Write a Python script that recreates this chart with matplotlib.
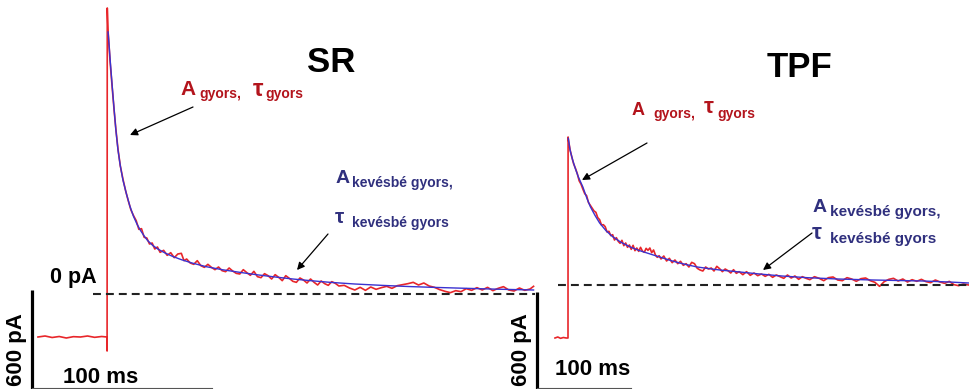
import numpy as np
import matplotlib.pyplot as plt

plt.rcParams['font.family'] = ['Liberation Sans', 'DejaVu Sans']

# SR trace: (time in ms with 0 = stimulus, current in pA with 0 = dashed baseline)
sr_trace = [
    (-39, -258), (-35, -252), (-31, -261), (-27, -255), (-23, -264), (-19, -256),
    (-15, -258), (-11, -252), (-7, -260), (-3, -255), (0, -258), (0.05, -342),
    (0.15, 1716), (0.6, 1572), (0.8, 1550), (1.7, 1400), (3, 1230), (4, 1105),
    (5, 990), (6.2, 870), (7.5, 770), (9, 690), (10.5, 620), (12, 560),
    (13.5, 505), (15, 470), (16.5, 440), (18, 388), (19.5, 392), (21, 340),
    (22.5, 336), (24, 300), (25.5, 306), (27, 270), (28.5, 282), (30, 250),
    (32, 262), (34, 232), (36, 248), (38, 218), (40, 240), (42, 244),
    (43.5, 200), (45, 210), (47, 186), (49, 178), (51, 200), (53, 170),
    (55, 160), (57, 178), (59, 160), (61, 146), (63, 162), (65, 140), (67, 134),
    (69, 156), (71, 138), (73, 124), (75, 120), (77, 146), (79, 128), (81, 112),
    (83, 136), (85, 104), (87, 98), (89, 122), (91, 110), (93, 90), (95, 116),
    (97, 100), (99, 80), (101, 110), (103, 94), (105, 76), (107, 70), (109, 96),
    (111, 84), (113, 66), (115, 90), (117, 70), (119, 54), (121, 78), (123, 62),
    (125, 52), (127, 74), (129, 64), (131, 48), (134, 52), (137, 36), (140, 24),
    (143, 40), (146, 22), (149, 42), (152, 28), (155, 38), (158, 46), (161, 34),
    (164, 50), (167, 56), (170, 62), (173, 70), (176, 54), (179, 66), (182, 48),
    (185, 40), (188, 26), (191, 16), (194, 8), (197, 20), (200, 14), (203, 32),
    (206, 22), (209, 38), (212, 24), (215, 40), (218, 20), (221, 34), (224, 44),
    (227, 24), (230, 18), (233, 36), (236, 22), (239, 30), (241, 46),
]

# SR fit
sr_fit_t = [0.6, 1.2, 2, 3, 4, 5, 6.2, 7.5, 9, 11, 13, 15, 17, 19, 21, 23, 26,
            29, 33, 37, 42, 48, 56, 65, 75, 85, 95, 105, 115, 126, 140, 155,
            170, 184, 200, 220, 241]
sr_fit_i = [1572, 1490, 1375, 1240, 1110, 985, 865, 770, 684, 600, 525, 465,
            418, 380, 348, 320, 290, 268, 245, 226, 206, 186, 164, 146, 130,
            115, 102, 90, 80, 70, 60, 52, 45, 40, 35, 29, 24]

# TPF trace
tpf_trace = [
    (-14, -318), (-11, -312), (-8, -320), (-5, -315), (-2, -318), (0, -318),
    (0.1, 888), (0.8, 860), (2.2, 812), (4, 770), (6, 728), (8, 700), (10, 668),
    (12, 625), (14, 605), (16, 575), (18, 548), (20, 536), (22, 495), (24, 478),
    (26, 462), (28, 444), (30, 436), (32, 404), (34, 392), (36, 360), (38, 362),
    (40, 350), (42, 318), (44, 322), (46, 296), (48, 302), (50, 270), (52, 284),
    (54, 262), (56, 250), (58, 268), (60, 236), (62, 252), (64, 226), (66, 240),
    (68, 214), (70, 238), (72, 206), (74, 222), (76, 202), (78, 226), (80, 204),
    (82, 196), (84, 220), (86, 208), (88, 222), (90, 194), (92, 210), (94, 180),
    (96, 166), (98, 176), (100, 156), (103, 174), (106, 144), (109, 160),
    (112, 134), (115, 150), (118, 128), (121, 142), (124, 118), (127, 128),
    (130, 108), (133, 136), (136, 128), (139, 100), (142, 90), (145, 84),
    (148, 108), (151, 96), (154, 102), (157, 84), (160, 112), (163, 98),
    (166, 80), (169, 96), (172, 86), (175, 72), (178, 92), (181, 70), (184, 80),
    (188, 62), (192, 80), (196, 58), (200, 72), (204, 56), (208, 66), (212, 52),
    (216, 64), (220, 46), (224, 60), (228, 50), (232, 40), (236, 60), (240, 42),
    (244, 54), (248, 34), (252, 50), (256, 40), (260, 32), (265, 50), (270, 40),
    (275, 26), (280, 44), (285, 48), (290, 30), (295, 26), (300, 44), (305, 36),
    (310, 22), (315, 38), (320, 42), (325, 26), (330, 16), (335, -8), (340, 20),
    (345, 34), (350, 40), (355, 24), (360, 36), (365, 18), (370, 32), (375, 22),
    (380, 34), (385, 20), (390, 14), (395, 30), (400, 18), (405, 10), (410, 22),
    (415, 2), (420, -4), (425, 6), (431, 0),
]

# TPF fit
tpf_fit_t = [0.3, 2.2, 5, 7.5, 11, 16, 20, 24, 29, 34, 41, 48, 57, 67, 76, 85,
             94, 102, 111, 120, 130, 139, 148, 156, 165, 174, 190, 206, 230,
             257, 290, 328, 355, 382, 410, 431]
tpf_fit_i = [880, 810, 750, 705, 650, 588, 525, 470, 418, 372, 325, 290, 256,
             228, 208, 192, 176, 162, 146, 132, 119, 108, 101, 95, 89, 84, 75,
             66, 54, 44, 36, 30, 27, 24, 18, 12]

W, H = 969, 389
PA_PER_PX = 6.0
red = '#e8262a'
blue = '#3a32d0'
dred = '#b3141c'
navy = '#30307e'

fig = plt.figure(figsize=(W / 100, H / 100), dpi=100)


def panel(x0, px_per_ms, y0):
    ax = fig.add_axes([0, 0, 1, 1])
    ax.set_xlim(-x0 / px_per_ms, (W - x0) / px_per_ms)
    ax.set_ylim(-(H - y0) * PA_PER_PX, y0 * PA_PER_PX)
    ax.axis('off')
    ax.patch.set_alpha(0)
    return ax


sr = np.array(sr_trace)
tpf = np.array(tpf_trace)

# SR panel
ax1 = panel(107, 1.77, 294)
ax1.plot(sr[:, 0], sr[:, 1], color=red, lw=1.2)
ax1.plot(sr_fit_t, sr_fit_i, color=blue, lw=1.0)
ax1.plot([-7.9, 241.8], [0, 0], color='#222222', lw=1.5, dashes=(3.8, 2.4))
ax1.plot([-42.4, -42.4], [24, -600], color='black', lw=2.3, solid_capstyle='butt')
ax1.plot([-42.4, 59.3], [-564, -564], color='#555555', lw=0.8)

# TPF panel
ax2 = panel(568, 0.93, 285)
ax2.plot(tpf[:, 0], tpf[:, 1], color=red, lw=1.2)
ax2.plot(tpf_fit_t, tpf_fit_i, color=blue, lw=1.0)
ax2.plot([-10.8, 432], [0, 0], color='#222222', lw=1.5, dashes=(3.8, 2.4))
ax2.plot([-33.3, -33.3], [-42, -650], color='black', lw=2.3, solid_capstyle='butt')
ax2.plot([-33.3, 67.7], [-618, -618], color='#555555', lw=0.8)

# overlay in pixel coordinates for labels
ax0 = fig.add_axes([0, 0, 1, 1])
ax0.set_xlim(0, W)
ax0.set_ylim(H, 0)
ax0.axis('off')
ax0.patch.set_alpha(0)


def txt(x, y, s, size, color='black', **kw):
    ax0.text(x, y, s, fontsize=size, color=color, fontweight='bold',
             va='baseline', ha='left', **kw)


def arrow(x1, y1, x2, y2):
    ax0.annotate('', xy=(x2, y2), xytext=(x1, y1),
                 arrowprops=dict(arrowstyle='-|>', color='black', lw=0.9,
                                 mutation_scale=11, shrinkA=0, shrinkB=0))


# titles
txt(307, 72, 'SR', 25)
txt(767, 77, 'TPF', 25)

# scale labels
txt(50, 283, '0 pA', 15.5)
txt(63, 383, '100 ms', 16)
txt(555, 375, '100 ms', 16)
ax0.text(17, 350, '600 pA', fontsize=16, fontweight='bold', rotation=90,
         ha='center', va='center')
ax0.text(522, 350, '600 pA', fontsize=16, fontweight='bold', rotation=90,
         ha='center', va='center')

# SR annotations
txt(180, 95, 'A', 15, dred)
txt(199, 98, 'gyors,', 10, dred)
txt(253, 96, 'τ', 17, dred)
txt(265, 98, 'gyors', 10, dred)
arrow(193, 107, 130, 135)

txt(336, 183, 'A', 14, navy)
txt(352, 187, 'kevésbé gyors,', 10, navy)
txt(335, 223, 'τ', 15, navy)
txt(352, 227, 'kevésbé gyors', 10, navy)
arrow(328, 234, 297, 270)

# TPF annotations
txt(632, 115, 'A', 13, dred)
txt(653, 118, 'gyors,', 10, dred)
txt(704, 113, 'τ', 16, dred)
txt(717, 118, 'gyors', 10, dred)
arrow(647, 143, 582, 180)

txt(813, 212, 'A', 14, navy)
txt(830, 216, 'kevésbé gyors,', 11, navy)
txt(812, 239, 'τ', 16, navy)
txt(830, 243, 'kevésbé gyors', 11, navy)
arrow(812, 233, 763, 270)

fig.savefig('out.png', dpi=100)
